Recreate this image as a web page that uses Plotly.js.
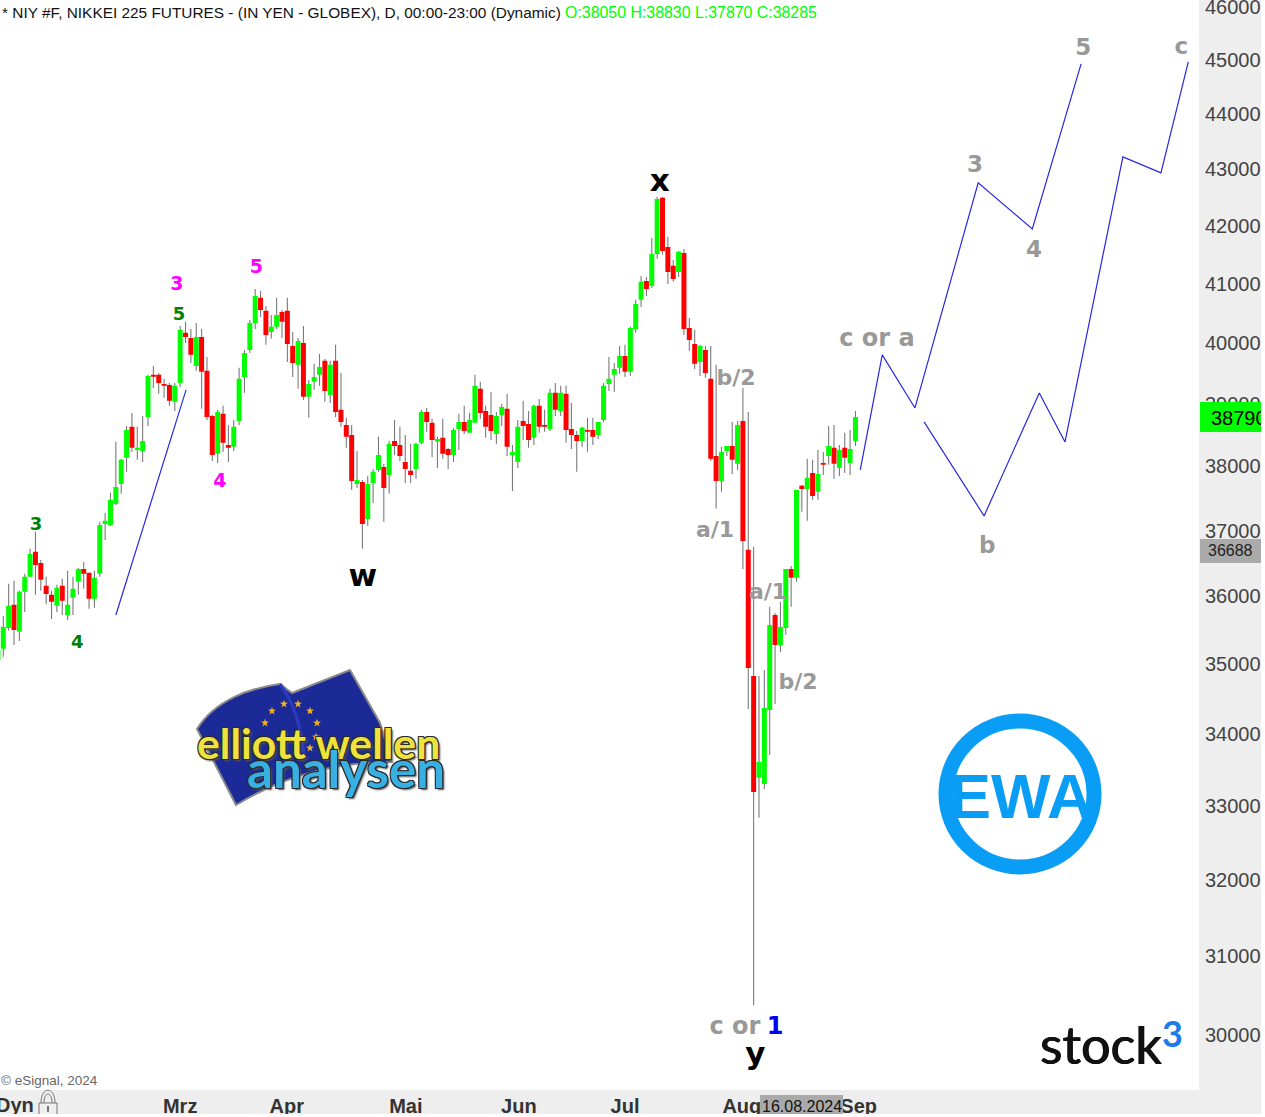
<!DOCTYPE html><html><head><meta charset="utf-8"><script src="https://cdn.plot.ly/plotly-3.0.1.min.js"></script>
<style>html,body{margin:0;padding:0;background:#fff}#clip{width:1261px;height:1114px;overflow:hidden;position:relative}</style></head><body>
<div id="clip"><div id="chart"></div></div>
<script>
var open_=[35060,35225,35530,35875,35475,36070,36295,36675,36505,36160,36025,35860,36160,35720,35980,36220,36415,36355,35965,36340,
37100,37085,37410,37725,38135,38630,38260,38245,38790,39475,39475,39325,39310,39035,39340,40170,40085,39620,40100,39540,
38805,38200,38840,38340,38310,38725,39440,39885,40335,40760,40540,40185,40270,40520,40540,39950,39640,40000,39115,39360,
39475,39705,39145,39705,38905,38660,38500,37725,37755,37180,37740,37945,37990,37865,38405,38340,38070,37930,37960,38375,
38870,38695,38390,38455,38275,38180,38595,38710,38535,38695,39245,38885,38820,38515,38820,38920,38180,38070,38725,38675,
38455,38970,38660,38595,39180,38885,39165,38595,38500,38405,38580,38580,38500,38740,39325,39475,39590,39785,39525,40235,
40725,41045,40960,41510,42490,41630,41305,41200,41525,40250,39985,39685,39885,39410,38165,37770,38245,38325,38040,38725,
36705,34830,33385,33300,34340,35725,35280,35530,36415,36280,37695,37645,37895,37600,38055,38165,38295,37975,38295,38055,
38405];
var high=[35210,35710,36190,36235,36090,36340,36720,36980,36550,36295,36085,36175,36265,36385,36295,36430,36520,36355,36385,37135,
37270,37585,38390,38120,38645,38855,38630,38805,39475,39620,39505,39410,39340,39340,40285,40355,40235,40335,40235,39770,
38820,38905,38970,38660,38740,39590,39885,40385,40910,40875,40620,40470,40760,40555,40760,40185,40085,40285,39390,39655,
39820,39735,39705,39970,39505,38775,38660,38245,37785,37850,37960,38470,38040,38405,38740,38630,38500,38355,38375,38905,
38935,38760,38470,38760,38295,38615,38840,38970,38855,39475,39360,38970,39195,38870,39000,39165,38340,38740,39050,38885,
38985,39080,38905,39245,39340,39295,39295,39015,38565,38630,38775,38775,38710,39340,39770,39670,39950,39970,40270,40725,
41130,41115,41785,42505,42505,41805,41405,41560,41595,40420,40220,39970,39950,39950,39640,38310,38260,38710,38725,39260,
38870,36750,34830,34915,35845,35755,35920,35860,36460,36675,37710,38120,38105,38260,38230,38645,38660,38340,38535,38580,
38885];
var low=[34870,35110,35490,35280,35340,35770,36295,36025,36085,35885,35665,35770,35725,35650,35725,36025,36115,35815,35830,36295,
36855,37070,37395,37570,37915,38230,38105,38070,38645,39260,39165,39100,38970,38885,39275,40000,39670,39540,38920,38740,
38085,38055,38230,38070,38245,38660,39180,39835,40235,40435,39970,40070,40235,40085,39685,39440,39245,39065,38775,39230,
39295,39035,39015,38790,38630,38295,37630,37660,36720,37070,37425,37915,37135,37570,38180,38085,37740,37740,37805,38355,
38550,38150,37975,38120,37960,38070,38260,38515,38535,38695,38760,38455,38420,38355,38645,38165,37615,37975,38420,38295,
38340,38535,38550,38565,38805,38805,38375,38275,37915,38310,38230,38340,38435,38710,39210,39195,39490,39440,39455,40170,
40605,40790,40925,41425,41495,40995,41030,41115,40135,39870,39570,39455,39425,38085,37335,37600,38165,37880,37945,36415,
34355,30375,32835,33230,33705,34425,35180,35430,35845,36220,37290,37150,37475,37475,37865,38025,37805,37850,37895,37865,
38325];
var close_=[35210,35545,35860,35500,36070,36295,36640,36475,36250,36035,35920,36130,35935,35875,36115,36415,36340,35965,36280,37085,
37150,37475,37675,38105,38580,38295,38295,38405,39455,39445,39340,39295,39050,39295,40220,40100,39805,40100,39525,38790,
38180,38870,38375,38295,38630,39410,39835,40335,40790,40555,40135,40270,40470,40355,39985,39670,40035,39115,39325,39440,
39605,39210,39640,38870,38710,38470,37770,37785,37100,37725,37915,38180,37660,38355,38325,38165,37960,37865,38355,38870,
38710,38420,38435,38200,38180,38580,38710,38565,38740,39295,38855,38630,38565,38805,38950,38310,38230,38630,38645,38420,
38970,38630,38630,39180,38905,39180,38580,38500,38405,38615,38550,38470,38710,39295,39410,39570,39785,39525,40250,40655,
41030,40910,41510,42470,41560,41200,41080,41545,40235,40050,39655,39950,39505,38120,37770,38230,38325,38105,38660,36840,
34945,33190,33605,34370,35575,35280,35545,36415,36280,37630,37645,37820,37535,37880,38025,38325,38040,38260,38135,38275,
38790];
var session=open_.map(function(_,i){return i;});
var wickSpan=high.map(function(h,i){return h-low[i];});

var monthTicks=[34,53.9,76.1,97.2,117,138.8,160.6];
var monthLabels=['Mrz','Apr','Mai','Jun','Jul','Aug','Sep'];
var priceTicks=[30000,31000,32000,33000,34000,35000,36000,37000,38000,39000,40000,41000,42000,43000,44000,45000,46000];

var leadX=[22.0,35.1],leadY=[35724,39228];
var pathAX=[160.9,165.0,171.1,182.9,193.0,202.1],pathAY=[37945,39803,38935,42754,41944,44923];
var pathBX=[172.8,184.0,194.3,199.1,209.9,217.0,222.1],pathBY=[38709,37226,39179,38389,43219,42932,44960];

var labelText=['3','5','5','4','3','4','w','x','y','b/2','a/1','a/1','b/2','c or a','c or','1','3','4','5','c','b'];
var labelX=[33.4,48.2,33.8,41.4,7.1,14.8,68.1,123.5,141.3,137.7,133.8,143.7,149.3,164.0,137.5,145.0,182.3,193.3,202.5,220.8,184.6];
var labelY=[40980,41270,40455,37755,37085,35310,36278,42753,29739,39391,36979,36038,34714,40053,30087,30087,43056,41563,45205,45222,36749];
var labelColor=['#ff00ff','#ff00ff','#008000','#ff00ff','#008000','#008000','#000','#000','#000','#999','#999','#999','#999','#999','#999','#0000ee','#999','#999','#999','#999','#999'];
var labelSize=[19,19,18,19,18,18,31,31,31,22,22,22,22,24,24,24,23,23,23,23,23];

var PW=1199,PH=1090;
function px(x){return x/PW;} function py(y){return 1-y/PH;}
function rect(x0,y0,x1,y1,fill,layer){return {type:'rect',xref:'paper',yref:'paper',x0:px(x0),x1:px(x1),y0:py(y1),y1:py(y0),fillcolor:fill,line:{width:0},layer:layer||'above'};}
function path(pts,fill,stroke,w,layer,closed){var d=pts.map(function(p,i){return p.length==6?('C'+px(p[0])+','+py(p[1])+' '+px(p[2])+','+py(p[3])+' '+px(p[4])+','+py(p[5])):((i?'L':'M')+px(p[0])+','+py(p[1]));}).join(' ')+(closed?' Z':'');
 return {type:'path',xref:'paper',yref:'paper',path:d,fillcolor:fill,line:{color:stroke,width:w},layer:layer||'below'};}
function note(x,y,t,f,xa){return {xref:'paper',yref:'paper',x:px(x),y:py(y),text:t,showarrow:false,xanchor:xa||'left',yanchor:'middle',font:f,borderpad:0};}
function star(cx,cy){var p=[],r;for(var k=0;k<10;k++){r=k%2?1.7:4.2;var a=-Math.PI/2+k*Math.PI/5;p.push([cx+r*Math.cos(a),cy+r*Math.sin(a)]);}
 return path(p,'#f0b020','#f0b020',0,'below',true);}

var GS={family:'"Liberation Sans",Arial,sans-serif'};
var stars=[[284,704],[298,704],[272,711],[310,711],[317,723],[265,723],[316,737],[310,748]];
var none='rgba(0,0,0,0)';

var shapes=[
 rect(1199,0,1261,1114,'#eeeeee','below'),
 rect(0,1090,1261,1114,'#eeeeee','below'),
 path([[197,729],[215,700,250,688,280,684],[292,693],[350,670],[380,723],[392,762],[330,762,280,778,236,805]],'#1c2a98','#8a8a8a',2,'below',true),
 path([[280,684],[292,700,300,720,305,760]],none,'#2c3cc0',3,'below')
].concat(stars.map(function(s){return star(s[0],s[1]);})).concat([
 {type:'circle',xref:'paper',yref:'paper',x0:px(946),x1:px(1094),y0:py(867),y1:py(721),fillcolor:none,line:{color:'#0a9df6',width:15},layer:'below'},
 rect(1200,402,1261,432,'#00ff00'),
 rect(1200,539,1261,563,'#aaaaaa'),
 rect(760,1095,843,1114,'#aaaaaa'),
 path([[39,1103],[39,1114]],none,'#777',1,'above'),
 path([[57,1103],[57,1114]],none,'#777',1,'above'),
 path([[39,1103],[57,1103]],none,'#777',1,'above'),
 path([[41,1103],[41,1086,55,1086,55,1103]],none,'#777',1,'above'),
 path([[44,1103],[44,1091,52,1091,52,1103]],none,'#777',1,'above'),
 path([[48,1106],[48,1112]],none,'#777',2,'above')
]);

var glow='1px 1px 0 #2a2a2a,-1px -1px 0 #2a2a2a,1px -1px 0 #2a2a2a,-1px 1px 0 #2a2a2a,2px 2px 2px #555';
var annotations=[
 note(1,13,'* NIY #F, NIKKEI 225 FUTURES - (IN YEN - GLOBEX), D, 00:00-23:00 (Dynamic) <span style="color:#00ff00;font-size:15.9px">O:38050 H:38830 L:37870 C:38285</span>',{family:GS.family,size:15.4,color:'#111'}),
 note(0,1080,'© eSignal, 2024',{family:GS.family,size:13.5,color:'#666'}),
 note(-5,1105,'Dyn',{family:GS.family,size:20,color:'#333',weight:700}),
 note(1210,418,'38790',{family:GS.family,size:20,color:'#000'}),
 note(1207,551,'36688',{family:GS.family,size:16,color:'#222'}),
 note(761,1106,'16.08.2024',{family:GS.family,size:16,color:'#111'}),
 note(1021,796,'EWA',{family:'"Liberation Sans Narrow","Liberation Sans"',size:63,color:'#0a9df6',weight:700},'center'),
 note(1039,1044,'stock',{family:'Lato,"Open Sans"',size:52,color:'#111',shadow:'0.6px 0 0 #111,-0.6px 0 0 #111'}),
 note(1161,1033,'3',{family:'Lato',size:36,color:'#1c7ce8',weight:700}),
 note(318,742,'elliott wellen',{family:'Lato',size:42.7,color:'#f0e23c',shadow:glow,weight:700},'center'),
 note(346,768,'analysen',{family:'Lato',size:51,color:'#38b0e4',shadow:glow,weight:700},'center')
];

var data=[
 {type:'bar',name:'range',x:session,base:low,y:wickSpan,width:0.2,marker:{color:'#777777',line:{width:0}},hoverinfo:'skip',showlegend:false},
 {type:'candlestick',name:'NIY #F',x:session,open:open_,high:high,low:low,close:close_,whiskerwidth:0,
  increasing:{fillcolor:'#00ff00',line:{color:'#00ff00',width:0}},decreasing:{fillcolor:'#ff0000',line:{color:'#ff0000',width:0}},showlegend:false},
 {type:'scatter',mode:'lines',x:leadX,y:leadY,line:{color:'#2828e0',width:1.2},showlegend:false,hoverinfo:'skip'},
 {type:'scatter',mode:'lines',x:pathAX,y:pathAY,line:{color:'#2828e0',width:1.2},showlegend:false,hoverinfo:'skip'},
 {type:'scatter',mode:'lines',x:pathBX,y:pathBY,line:{color:'#2828e0',width:1.2},showlegend:false,hoverinfo:'skip'},
 {type:'scatter',mode:'text',x:labelX,y:labelY,text:labelText,cliponaxis:false,textposition:'middle center',
  textfont:{family:'"DejaVu Sans"',weight:700,color:labelColor,size:labelSize},showlegend:false,hoverinfo:'skip'}
];

var layout={
 width:1265,height:1117,autosize:false,margin:{l:0,r:66,t:0,b:27,pad:0},
 paper_bgcolor:'#ffffff',plot_bgcolor:'#ffffff',showlegend:false,hovermode:false,barmode:'overlay',boxmode:'overlay',boxgap:0.07,boxgroupgap:0,
 xaxis:{type:'linear',range:[0.384,224.1],showgrid:false,zeroline:false,showline:false,rangeslider:{visible:false},
  tickmode:'array',tickvals:monthTicks,ticktext:monthLabels,ticks:'',ticklabelstandoff:2,ticklabeloverflow:'allow',
  tickfont:{family:GS.family,size:20,color:'#333',weight:700},automargin:false},
 yaxis:{type:'log',side:'right',range:[Math.log10(29322),Math.log10(46131)],showgrid:false,zeroline:false,showline:false,
  tickmode:'array',tickvals:priceTicks,ticktext:priceTicks.map(String),ticks:'outside',ticklen:1,tickcolor:none,ticklabeloverflow:'allow',
  tickfont:{family:GS.family,size:20,color:'#444'},automargin:false},
 shapes:shapes,annotations:annotations
};
Plotly.newPlot('chart',data,layout,{displayModeBar:false,staticPlot:true});
</script></body></html>
